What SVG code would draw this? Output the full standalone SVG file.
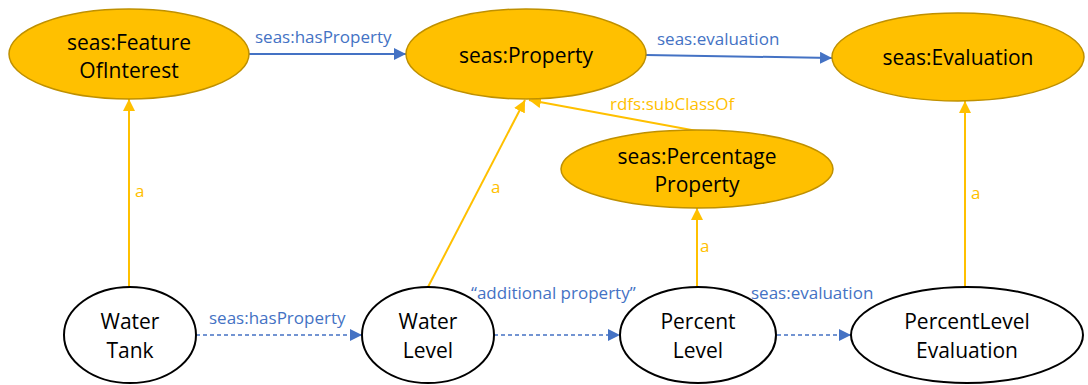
<svg xmlns="http://www.w3.org/2000/svg" width="1088" height="385" viewBox="0 0 1088 385">
  <style>
    .cls { fill: #FFC000; stroke: #BF9000; stroke-width: 1.5; }
    .inst { fill: #FFFFFF; stroke: #000000; stroke-width: 2; }
    .nt { font-family: "Open Sans", Lato, sans-serif; font-size: 21px; font-weight: 400; fill: #000000; text-anchor: middle; }
    .el { font-family: "Open Sans", Lato, sans-serif; font-size: 17px; font-weight: 400; }
    .blue { fill: #4472C4; }
    .gold { fill: #FFC000; }
    .sb { stroke: #4472C4; stroke-width: 2; fill: none; }
    .db { stroke: #4472C4; stroke-width: 1.5; stroke-dasharray: 4 3; fill: none; }
    .so { stroke: #FFC000; stroke-width: 2; fill: none; }
  </style>
  <defs>
    <marker id="ab" viewBox="0 0 10 10" refX="10" refY="5" markerWidth="12" markerHeight="12" markerUnits="userSpaceOnUse" orient="auto">
      <path d="M0,0 L10,5 L0,10 z" fill="#4472C4"/>
    </marker>
    <marker id="ao" viewBox="0 0 10 10" refX="10" refY="5" markerWidth="12" markerHeight="12" markerUnits="userSpaceOnUse" orient="auto">
      <path d="M0,0 L10,5 L0,10 z" fill="#FFC000"/>
    </marker>
  </defs>

  <!-- connectors and their labels -->
  <g id="connectors">
    <line class="sb" x1="249" y1="54" x2="406" y2="54" marker-end="url(#ab)"/>
    <line class="sb" x1="646" y1="55" x2="832" y2="58" marker-end="url(#ab)"/>
    <line class="so" x1="129" y1="287" x2="129" y2="99" marker-end="url(#ao)"/>
    <line class="so" x1="428" y1="287" x2="525" y2="100" marker-end="url(#ao)"/>
    <line class="so" x1="697" y1="131" x2="529" y2="100" marker-end="url(#ao)"/>
    <line class="so" x1="697" y1="287" x2="697" y2="208" marker-end="url(#ao)"/>
    <line class="so" x1="965" y1="287" x2="965" y2="101" marker-end="url(#ao)"/>
    <line class="db" x1="196" y1="335" x2="362" y2="335" marker-end="url(#ab)"/>
    <line class="db" x1="494" y1="335" x2="620" y2="335" marker-end="url(#ab)"/>
    <line class="db" x1="777" y1="335" x2="851" y2="335" marker-end="url(#ab)"/>

    <text class="el blue" x="255" y="43">seas:hasProperty</text>
    <text class="el blue" x="657" y="45">seas:evaluation</text>
    <text class="el gold" x="610" y="110">rdfs:subClassOf</text>
    <text class="el gold" x="135" y="197">a</text>
    <text class="el gold" x="491" y="193">a</text>
    <text class="el gold" x="700" y="252">a</text>
    <text class="el gold" x="971" y="199">a</text>
    <text class="el blue" x="209" y="324">seas:hasProperty</text>
    <text class="el blue" x="471" y="299">“additional property”</text>
    <text class="el blue" x="751" y="299">seas:evaluation</text>
  </g>

  <!-- class nodes -->
  <g id="featureOfInterest">
    <ellipse class="cls" cx="129" cy="54" rx="120" ry="45"/>
    <text class="nt" x="129" y="50">seas:Feature</text>
    <text class="nt" x="129" y="78">OfInterest</text>
  </g>
  <g id="property">
    <ellipse class="cls" cx="526" cy="54" rx="120" ry="45"/>
    <text class="nt" x="526" y="63">seas:Property</text>
  </g>
  <g id="evaluation">
    <ellipse class="cls" cx="958" cy="57" rx="126" ry="44"/>
    <text class="nt" x="958" y="65">seas:Evaluation</text>
  </g>
  <g id="percentageProperty">
    <ellipse class="cls" cx="697" cy="169" rx="136" ry="39"/>
    <text class="nt" x="697" y="164">seas:Percentage</text>
    <text class="nt" x="697" y="192">Property</text>
  </g>

  <!-- instance nodes -->
  <g id="waterTank">
    <ellipse class="inst" cx="130" cy="335" rx="66" ry="48"/>
    <text class="nt" x="130" y="329">Water</text>
    <text class="nt" x="130" y="358">Tank</text>
  </g>
  <g id="waterLevel">
    <ellipse class="inst" cx="428" cy="335" rx="66" ry="48"/>
    <text class="nt" x="428" y="329">Water</text>
    <text class="nt" x="428" y="358">Level</text>
  </g>
  <g id="percentLevel">
    <ellipse class="inst" cx="698" cy="335" rx="78" ry="48"/>
    <text class="nt" x="698" y="329">Percent</text>
    <text class="nt" x="698" y="358">Level</text>
  </g>
  <g id="percentLevelEvaluation">
    <ellipse class="inst" cx="967" cy="335" rx="116" ry="48"/>
    <text class="nt" x="967" y="329">PercentLevel</text>
    <text class="nt" x="967" y="358">Evaluation</text>
  </g>
</svg>
